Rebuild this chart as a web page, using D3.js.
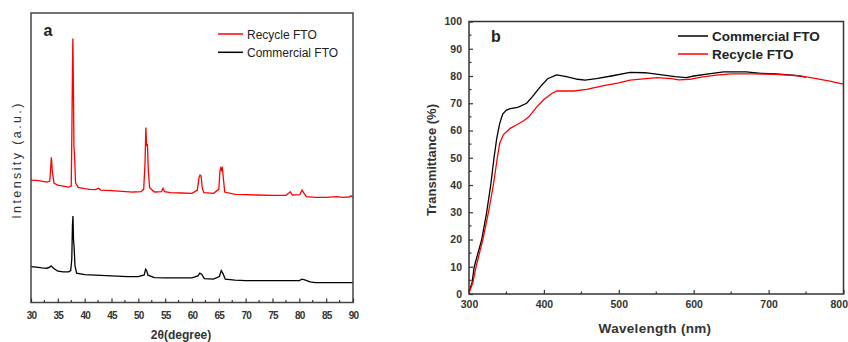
<!DOCTYPE html>
<html>
<head>
<meta charset="utf-8">
<script src="https://cdn.jsdelivr.net/npm/d3@7"></script>
<style>
  html, body { margin: 0; padding: 0; background: #fff; }
  svg { display: block; }
  text { font-family: "Liberation Sans", Arial, sans-serif; }
</style>
</head>
<body>
<svg id="chart" width="848" height="342"></svg>
<script>
// ---- XRD patterns (2θ in degrees, intensity in arbitrary units) ----
const recycleXrd = [
  [30.0, 368], [30.8, 367], [31.5, 366], [32.2, 364], [33.0, 362], [33.5, 365],
  [33.65, 400], [33.8, 436], [34.0, 390], [34.3, 358], [35.0, 353], [36.0, 350],
  [37.0, 347], [37.5, 350], [37.62, 520], [37.72, 690], [37.8, 793], [37.9, 650],
  [38.0, 470], [38.12, 440], [38.3, 360], [38.8, 346], [40.0, 342], [41.0, 340],
  [42.0, 339], [42.6, 343], [43.0, 338], [45.0, 336], [47.0, 334], [49.0, 332],
  [50.5, 333], [51.0, 340], [51.25, 420], [51.4, 526], [51.55, 470], [51.7, 476],
  [51.85, 400], [52.1, 345], [53.0, 332], [54.3, 333], [54.6, 343], [54.9, 333],
  [56.0, 330], [58.0, 329], [60.0, 328], [61.0, 338], [61.3, 375], [61.5, 383],
  [61.7, 380], [61.9, 345], [62.2, 330], [64.0, 328], [65.0, 340], [65.2, 395],
  [65.35, 404], [65.5, 398], [65.65, 408], [65.8, 380], [66.1, 332], [68.0, 325],
  [70.0, 324], [72.0, 323], [75.0, 322], [77.5, 322], [78.0, 328], [78.3, 333],
  [78.7, 323], [80.1, 324], [80.5, 338], [80.8, 330], [81.3, 318], [83.0, 316],
  [85.0, 316], [87.0, 318], [88.0, 316], [89.3, 317], [89.6, 321], [90.0, 317]
];
const commercialXrd = [
  [30.0, 108], [31.0, 106], [32.0, 104], [33.0, 103], [33.5, 106], [33.75, 110],
  [34.2, 103], [35.0, 94], [36.0, 92], [37.0, 92], [37.4, 96], [37.6, 130],
  [37.72, 230], [37.82, 260], [37.92, 190], [38.02, 170], [38.2, 110], [38.5, 88],
  [40.0, 84], [42.0, 82], [45.0, 80], [48.0, 78], [50.0, 78], [51.1, 83],
  [51.35, 100], [51.55, 96], [51.8, 82], [53.0, 75], [55.0, 74], [58.0, 74],
  [60.0, 74], [61.1, 80], [61.45, 88], [61.8, 85], [62.3, 72], [64.0, 70],
  [65.1, 78], [65.45, 96], [65.8, 86], [66.2, 70], [68.0, 67], [70.0, 66],
  [75.0, 66], [80.0, 66], [80.5, 70], [81.0, 68], [82.0, 62], [83.0, 60], [90.0, 60]
];
const xrdTicks = [30, 35, 40, 45, 50, 55, 60, 65, 70, 75, 80, 85, 90];

// ---- UV-Vis transmittance (wavelength in nm, T in %) ----
const commercialUv = [
  [300, 1], [304, 4], [307, 10], [312, 15], [317, 20], [323.6, 30], [329, 40],
  [333.4, 50], [337, 57], [341, 62.6], [345, 66], [350, 67.5], [355, 68],
  [365, 68.5], [377, 70], [385, 72.5], [395, 76], [405, 79], [417, 80.4],
  [430, 79.8], [445, 78.8], [455, 78.5], [470, 79], [490, 80], [515, 81.3],
  [535, 81.2], [555, 80.5], [575, 79.8], [590, 79.4], [600, 80], [620, 80.8],
  [640, 81.5], [670, 81.5], [690, 81], [710, 80.8], [735, 80.2], [750, 79.6]
];
const recycleUv = [
  [300, 0.5], [305, 4], [309.4, 10], [318.5, 20], [326, 30], [332.5, 40],
  [337.8, 50], [341, 55.3], [346, 58.5], [355, 60.8], [365, 62.3], [373, 63.6],
  [380, 65], [390, 68.5], [400, 71.4], [410, 73.5], [417, 74.5], [440, 74.5],
  [457, 75.1], [480, 76.5], [500, 77.5], [515, 78.5], [551, 79.4], [570, 79],
  [580, 78.6], [595, 78.8], [610, 79.6], [630, 80.3], [650, 80.8], [680, 80.8],
  [710, 80.6], [740, 80.1], [760, 79.2], [780, 78.2], [800, 77]
];
const uvXTicks = [300, 400, 500, 600, 700, 800];
const uvYTicks = [0, 10, 20, 30, 40, 50, 60, 70, 80, 90, 100];

const svg = d3.select("#chart");

// ================= Panel a: XRD =================
const A = { left: 31, right: 353, top: 13, bottom: 302.5 };
const xA = d3.scaleLinear().domain([30, 90]).range([A.left, A.right]);
const yA = d3.scaleLinear().domain([0, 870]).range([A.bottom, A.top]);
const gA = svg.append("g");

const lineA = d3.line().x(d => xA(d[0])).y(d => yA(d[1]));
gA.append("path").datum(commercialXrd).attr("d", lineA)
  .attr("fill", "none").attr("stroke", "#000").attr("stroke-width", 1.3);
gA.append("path").datum(recycleXrd).attr("d", lineA)
  .attr("fill", "none").attr("stroke", "#ff0000").attr("stroke-width", 1.3);

// frame
gA.append("rect").attr("x", A.left).attr("y", A.top)
  .attr("width", A.right - A.left).attr("height", A.bottom - A.top)
  .attr("fill", "none").attr("stroke", "#444").attr("stroke-width", 1.5);

// inward x ticks (major every 5, minor between)
const axA = d3.axisBottom(xA).tickValues(xrdTicks).tickSize(-4).tickPadding(9)
  .tickFormat(d3.format("d"));
const axAg = gA.append("g").attr("transform", `translate(0,${A.bottom})`).call(axA);
axAg.select(".domain").remove();
axAg.selectAll(".tick line").attr("stroke", "#333").attr("stroke-width", 1.2);
axAg.selectAll(".tick text").attr("fill", "#333").attr("font-size", 10)
  .attr("font-weight", "bold").attr("letter-spacing", -0.8)
  .attr("font-family", "'Liberation Sans Narrow', 'Liberation Sans', Arial, sans-serif");
const minorA = d3.range(32.5, 90, 5);
gA.selectAll(".minorA").data(minorA).join("line")
  .attr("x1", d => xA(d)).attr("x2", d => xA(d))
  .attr("y1", A.bottom).attr("y2", A.bottom - 2.5)
  .attr("stroke", "#333").attr("stroke-width", 1.2);

gA.append("text").attr("x", 48).attr("y", 35.5).text("a")
  .attr("font-size", 16).attr("font-weight", "bold").attr("fill", "#222")
  .attr("text-anchor", "middle");

// legend
const legA = [
  { name: "Recycle FTO", color: "#ff0000", y: 34 },
  { name: "Commercial FTO", color: "#000", y: 52.3 }
];
legA.forEach(l => {
  gA.append("line").attr("x1", 218).attr("x2", 243).attr("y1", l.y).attr("y2", l.y)
    .attr("stroke", l.color).attr("stroke-width", 1.5);
  gA.append("text").attr("x", 247).attr("y", l.y + 4.5).text(l.name)
    .attr("font-size", 12).attr("fill", "#222");
});

gA.append("text").attr("x", 181).attr("y", 338.5).text("2θ(degree)")
  .attr("font-size", 12).attr("font-weight", "bold").attr("fill", "#333")
  .attr("text-anchor", "middle");
gA.append("text").attr("transform", "translate(21,160) rotate(-90)")
  .text("Intensity (a.u.)").attr("font-size", 12.5).attr("letter-spacing", 2.4)
  .attr("fill", "#333").attr("text-anchor", "middle");

// ================= Panel b: Transmittance =================
const B = { left: 469, right: 843.5, top: 21.5, bottom: 294 };
const xB = d3.scaleLinear().domain([300, 800]).range([B.left, B.right]);
const yB = d3.scaleLinear().domain([0, 100]).range([B.bottom, B.top]);
const gB = svg.append("g");

const lineB = d3.line().x(d => xB(d[0])).y(d => yB(d[1]));
gB.append("path").datum(commercialUv).attr("d", lineB)
  .attr("fill", "none").attr("stroke", "#000").attr("stroke-width", 1.3);
gB.append("path").datum(recycleUv).attr("d", lineB)
  .attr("fill", "none").attr("stroke", "#ff0000").attr("stroke-width", 1.3);

gB.append("rect").attr("x", B.left).attr("y", B.top)
  .attr("width", B.right - B.left).attr("height", B.bottom - B.top)
  .attr("fill", "none").attr("stroke", "#333").attr("stroke-width", 1.5);

const axBx = d3.axisBottom(xB).tickValues(uvXTicks).tickSize(-4).tickPadding(7)
  .tickFormat(d3.format("d"));
const axBxg = gB.append("g").attr("transform", `translate(0,${B.bottom})`).call(axBx);
axBxg.select(".domain").remove();
// the last label sits against the right edge of the page
axBxg.selectAll(".tick text").filter(d => d === 800)
  .attr("text-anchor", "end").attr("dx", 4);

const axBy = d3.axisLeft(yB).tickValues(uvYTicks).tickSize(-4).tickPadding(7)
  .tickFormat(d3.format("d"));
const axByg = gB.append("g").attr("transform", `translate(${B.left},0)`).call(axBy);
axByg.select(".domain").remove();

[axBxg, axByg].forEach(g => {
  g.selectAll(".tick line").attr("stroke", "#333").attr("stroke-width", 1.2);
  g.selectAll(".tick text").attr("fill", "#333").attr("font-size", 10.5)
    .attr("font-weight", "bold");
});
gB.selectAll(".minorBx").data(d3.range(350, 800, 100)).join("line")
  .attr("x1", d => xB(d)).attr("x2", d => xB(d))
  .attr("y1", B.bottom).attr("y2", B.bottom - 2.5)
  .attr("stroke", "#333").attr("stroke-width", 1.2);
gB.selectAll(".minorBy").data(d3.range(5, 100, 10)).join("line")
  .attr("x1", B.left).attr("x2", B.left + 2.5)
  .attr("y1", d => yB(d)).attr("y2", d => yB(d))
  .attr("stroke", "#333").attr("stroke-width", 1.2);

gB.append("text").attr("x", 496).attr("y", 41.5).text("b")
  .attr("font-size", 16).attr("font-weight", "bold").attr("fill", "#222")
  .attr("text-anchor", "middle");

const legB = [
  { name: "Commercial FTO", color: "#000", y: 36 },
  { name: "Recycle FTO", color: "#ff0000", y: 54 }
];
legB.forEach(l => {
  gB.append("line").attr("x1", 678).attr("x2", 708).attr("y1", l.y).attr("y2", l.y)
    .attr("stroke", l.color).attr("stroke-width", 1.5);
  gB.append("text").attr("x", 712).attr("y", l.y + 5).text(l.name)
    .attr("font-size", 13.5).attr("font-weight", "bold").attr("fill", "#222");
});

gB.append("text").attr("x", 655).attr("y", 333).text("Wavelength (nm)")
  .attr("font-size", 13.5).attr("font-weight", "bold").attr("fill", "#333")
  .attr("text-anchor", "middle").attr("letter-spacing", 0.3);
gB.append("text").attr("transform", "translate(436,160) rotate(-90)")
  .text("Transmittance (%)").attr("font-size", 13).attr("font-weight", "bold")
  .attr("fill", "#333").attr("text-anchor", "middle");
</script>
</body>
</html>
